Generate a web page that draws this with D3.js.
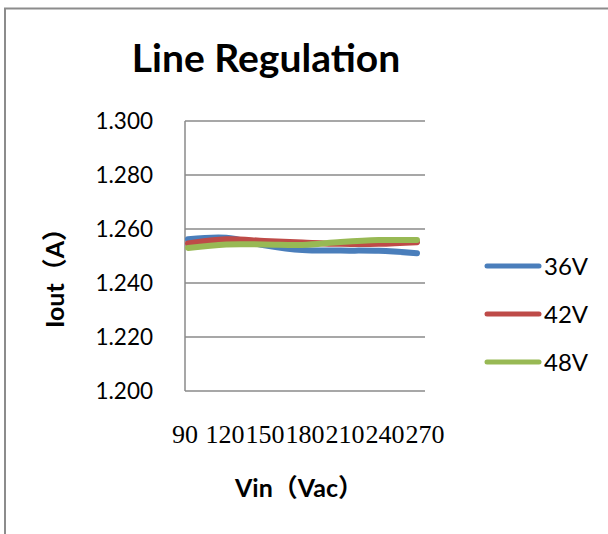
<!DOCTYPE html>
<html>
<head>
<meta charset="utf-8">
<script src="https://cdn.jsdelivr.net/npm/d3@7.9.0/dist/d3.min.js"></script>
<style>
  html, body { margin: 0; padding: 0; background: #fff; }
  svg { display: block; }
</style>
</head>
<body>
<svg id="chart" width="608" height="534"></svg>
<script>
// data
const vinLabels = ["90", "120", "150", "180", "210", "240", "270"];
const seriesNames = ["36V", "42V", "48V"];
const iout36 = [1.2562, 1.2568, 1.2540, 1.2522, 1.2520, 1.2519, 1.2510];
const iout42 = [1.2546, 1.2562, 1.2556, 1.2550, 1.2545, 1.2545, 1.2551];
const iout48 = [1.2530, 1.2543, 1.2543, 1.2541, 1.2552, 1.2559, 1.2559];
const yTicks = [1.2, 1.22, 1.24, 1.26, 1.28, 1.3];

const colors = ["#4a7ebb", "#be4b48", "#98b954"];
const sansFont = "Lato, 'Noto Sans CJK SC', sans-serif";

const svg = d3.select("#chart");

// outer chart border (runs off the right/bottom edge)
svg.append("rect")
  .attr("x", 5).attr("y", 8.5)
  .attr("width", 700).attr("height", 600)
  .attr("fill", "none")
  .attr("stroke", "#8c8c8c")
  .attr("stroke-width", 2);

const plot = { left: 185, right: 425, top: 121, bottom: 391 };

const y = d3.scaleLinear().domain([1.2, 1.3]).range([plot.bottom, plot.top]);
const x = d3.scalePoint().domain(vinLabels).range([188, 417]);
const xLab = d3.scalePoint().domain(vinLabels).range([plot.left, plot.right]);

// gridlines
svg.append("g")
  .selectAll("line")
  .data(yTicks)
  .join("line")
  .attr("x1", plot.left).attr("x2", plot.right)
  .attr("y1", d => y(d)).attr("y2", d => y(d))
  .attr("stroke", "#8a8a8a")
  .attr("stroke-width", 1.5);

// y axis line
svg.append("line")
  .attr("x1", plot.left).attr("x2", plot.left)
  .attr("y1", plot.top).attr("y2", plot.bottom)
  .attr("stroke", "#8a8a8a")
  .attr("stroke-width", 1.5);

// y tick labels
svg.append("g")
  .selectAll("text")
  .data(yTicks)
  .join("text")
  .attr("x", 153)
  .attr("y", d => y(d))
  .attr("dy", "0.35em")
  .attr("text-anchor", "end")
  .attr("font-family", sansFont)
  .attr("font-size", 22.5)
  .attr("fill", "#000")
  .text(d3.format(".3f"));

// x tick labels
svg.append("g")
  .selectAll("text")
  .data(vinLabels)
  .join("text")
  .attr("x", d => xLab(d))
  .attr("y", 443)
  .attr("text-anchor", "middle")
  .attr("font-family", "'Liberation Serif', serif")
  .attr("font-size", 26)
  .attr("fill", "#000")
  .text(d => d);

// series
const allSeries = [iout36, iout42, iout48];
const line = d3.line()
  .x((d, i) => x(vinLabels[i]))
  .y(d => y(d))
  .curve(d3.curveCatmullRom.alpha(0.5));

svg.append("g")
  .selectAll("path")
  .data(allSeries)
  .join("path")
  .attr("d", d => line(d))
  .attr("fill", "none")
  .attr("stroke", (d, i) => colors[i])
  .attr("stroke-width", 6)
  .attr("stroke-linecap", "round")
  .attr("stroke-linejoin", "round");

// title
svg.append("text")
  .attr("x", 266).attr("y", 72)
  .attr("text-anchor", "middle")
  .attr("font-family", sansFont)
  .attr("font-weight", "bold")
  .attr("font-size", 39)
  .attr("fill", "#000")
  .text("Line Regulation");

// axis titles
svg.append("text")
  .attr("transform", "translate(64,272) rotate(-90)")
  .attr("text-anchor", "middle")
  .attr("font-family", sansFont)
  .attr("font-weight", "bold")
  .attr("font-size", 25)
  .attr("fill", "#000")
  .text("Iout（A）");

svg.append("text")
  .attr("x", 299).attr("y", 497)
  .attr("text-anchor", "middle")
  .attr("font-family", sansFont)
  .attr("font-weight", "bold")
  .attr("font-size", 25)
  .attr("fill", "#000")
  .text("Vin（Vac）");

// legend
const legendY = d3.scalePoint().domain(seriesNames).range([266, 362]);
const legend = svg.append("g")
  .selectAll("g")
  .data(seriesNames)
  .join("g")
  .attr("transform", d => `translate(0,${legendY(d)})`);

legend.append("line")
  .attr("x1", 487).attr("x2", 539)
  .attr("stroke", (d, i) => colors[i])
  .attr("stroke-width", 5)
  .attr("stroke-linecap", "round");

legend.append("text")
  .attr("x", 544)
  .attr("dy", "0.36em")
  .attr("font-family", sansFont)
  .attr("font-size", 24)
  .attr("fill", "#000")
  .text(d => d);
</script>
</body>
</html>
